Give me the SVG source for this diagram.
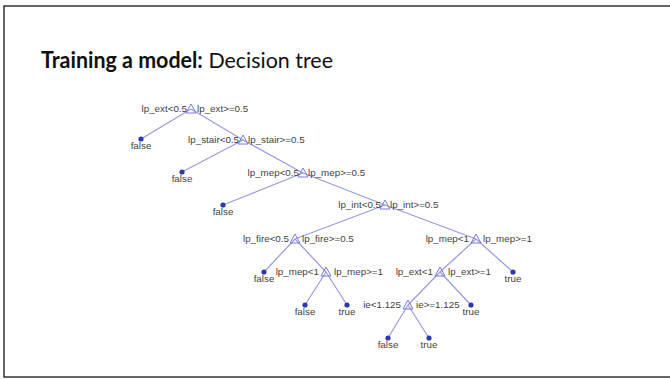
<svg xmlns="http://www.w3.org/2000/svg" width="670" height="379" viewBox="0 0 670 379">
<style>
.t{font-family:"Liberation Sans",Arial,sans-serif;font-size:9.8px;fill:#3f3f3f}
.l{text-anchor:end}
.lf{text-anchor:middle}
.tri{fill:none;stroke:#7b7bd6;stroke-width:1}
.dot{fill:#2a3aa8}
.e line{stroke:#9a9ae0;stroke-width:1.2}
</style>
<defs>
<path id="tri" class="tri" d="M0,-5 L5,4 L-5,4 Z"/>
</defs>
<rect x="0" y="0" width="670" height="379" fill="#fff"/>
<rect x="4" y="6" width="700" height="371" fill="#fff" stroke="#333" stroke-width="1.5"/>
<text x="41" y="68" font-family="Lato,'Liberation Sans',sans-serif" font-size="22" fill="#111" textLength="292" lengthAdjust="spacingAndGlyphs"><tspan font-weight="bold">Training a model:</tspan> Decision tree</text>
<g class="e" id="edges">
<line x1="191" y1="109" x2="141" y2="139"/>
<line x1="191" y1="109" x2="243" y2="140"/>
<line x1="243" y1="140" x2="182" y2="172"/>
<line x1="243" y1="140" x2="303" y2="173"/>
<line x1="303" y1="173" x2="223" y2="205"/>
<line x1="303" y1="173" x2="385" y2="205"/>
<line x1="385" y1="205" x2="295" y2="239"/>
<line x1="385" y1="205" x2="476" y2="239"/>
<line x1="295" y1="239" x2="264" y2="272"/>
<line x1="295" y1="239" x2="326" y2="272"/>
<line x1="326" y1="272" x2="305" y2="305"/>
<line x1="326" y1="272" x2="347" y2="305"/>
<line x1="476" y1="239" x2="440" y2="272"/>
<line x1="476" y1="239" x2="513" y2="272"/>
<line x1="440" y1="272" x2="408" y2="305"/>
<line x1="440" y1="272" x2="471" y2="305"/>
<line x1="408" y1="305" x2="388" y2="338"/>
<line x1="408" y1="305" x2="429" y2="338"/>
</g>
<g id="n1"><use href="#tri" x="191" y="109"/><text class="t l" x="187" y="112">lp_ext&lt;0.5</text><text class="t" x="197" y="112">lp_ext&gt;=0.5</text></g>
<g id="n2"><use href="#tri" x="243" y="140"/><text class="t l" x="239" y="143">lp_stair&lt;0.5</text><text class="t" x="248" y="143">lp_stair&gt;=0.5</text></g>
<g id="n3"><use href="#tri" x="303" y="173"/><text class="t l" x="299" y="176">lp_mep&lt;0.5</text><text class="t" x="308" y="176">lp_mep&gt;=0.5</text></g>
<g id="n4"><use href="#tri" x="385" y="205"/><text class="t l" x="381" y="208">lp_int&lt;0.5</text><text class="t" x="390" y="208">lp_int&gt;=0.5</text></g>
<g id="n5"><use href="#tri" x="295" y="239"/><text class="t l" x="289" y="242">lp_fire&lt;0.5</text><text class="t" x="302" y="242">lp_fire&gt;=0.5</text></g>
<g id="n6"><use href="#tri" x="476" y="239"/><text class="t l" x="469" y="242">lp_mep&lt;1</text><text class="t" x="483" y="242">lp_mep&gt;=1</text></g>
<g id="n7"><use href="#tri" x="326" y="272"/><text class="t l" x="319" y="275">lp_mep&lt;1</text><text class="t" x="334" y="275">lp_mep&gt;=1</text></g>
<g id="n8"><use href="#tri" x="440" y="272"/><text class="t l" x="433" y="275">lp_ext&lt;1</text><text class="t" x="448" y="275">lp_ext&gt;=1</text></g>
<g id="n9"><use href="#tri" x="408" y="305"/><text class="t l" x="401" y="308">ie&lt;1.125</text><text class="t" x="416" y="308">ie&gt;=1.125</text></g>
<g id="leaf1"><circle class="dot" cx="141" cy="139" r="2.6"/><text class="t lf" x="141" y="149">false</text></g>
<g id="leaf2"><circle class="dot" cx="182" cy="172" r="2.6"/><text class="t lf" x="182" y="182">false</text></g>
<g id="leaf3"><circle class="dot" cx="223" cy="205" r="2.6"/><text class="t lf" x="223" y="215">false</text></g>
<g id="leaf4"><circle class="dot" cx="264" cy="272" r="2.6"/><text class="t lf" x="264" y="282">false</text></g>
<g id="leaf5"><circle class="dot" cx="305" cy="305" r="2.6"/><text class="t lf" x="305" y="315">false</text></g>
<g id="leaf6"><circle class="dot" cx="347" cy="305" r="2.6"/><text class="t lf" x="347" y="315">true</text></g>
<g id="leaf7"><circle class="dot" cx="513" cy="272" r="2.6"/><text class="t lf" x="513" y="282">true</text></g>
<g id="leaf8"><circle class="dot" cx="471" cy="305" r="2.6"/><text class="t lf" x="471" y="315">true</text></g>
<g id="leaf9"><circle class="dot" cx="388" cy="338" r="2.6"/><text class="t lf" x="388" y="348">false</text></g>
<g id="leaf10"><circle class="dot" cx="429" cy="338" r="2.6"/><text class="t lf" x="429" y="348">true</text></g>
</svg>
